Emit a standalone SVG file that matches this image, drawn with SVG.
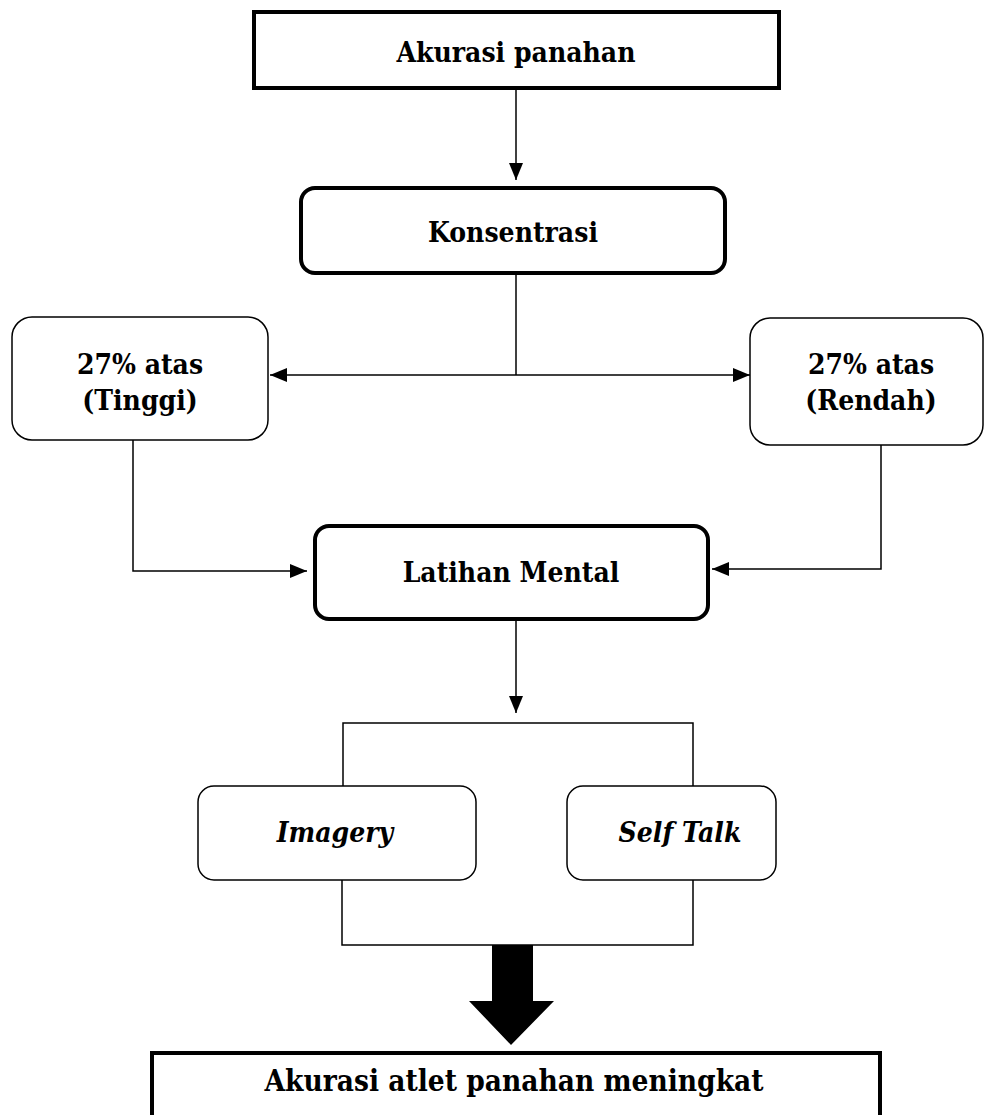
<svg xmlns="http://www.w3.org/2000/svg" width="984" height="1115" viewBox="0 0 984 1115">
<defs>
<marker id="ah" markerUnits="userSpaceOnUse" markerWidth="18" markerHeight="14" refX="17" refY="7" orient="auto-start-reverse">
<path d="M0,0 L17,7 L0,14 Z" fill="#000"/>
</marker>
<style>
.t{font-family:"DejaVu Serif Condensed","DejaVu Serif",serif;font-stretch:condensed;font-size:28px;font-weight:bold;fill:#000;text-anchor:middle}
.i{font-style:italic}
.thick{fill:#fff;stroke:#000;stroke-width:4}
.thin{fill:#fff;stroke:#000;stroke-width:1.5}
.c{fill:none;stroke:#000;stroke-width:1.5}
</style>
</defs>
<rect width="984" height="1115" fill="#fff"/>
<g id="connectors">
<line class="c" x1="516" y1="89" x2="516" y2="180" marker-end="url(#ah)"/>
<line class="c" x1="516" y1="275" x2="516" y2="375"/>
<line class="c" x1="270" y1="375" x2="750" y2="375" marker-start="url(#ah)" marker-end="url(#ah)"/>
<polyline class="c" points="133,440 133,571 307,571" marker-end="url(#ah)"/>
<polyline class="c" points="881,445 881,569 712,569" marker-end="url(#ah)"/>
<line class="c" x1="516" y1="621" x2="516" y2="713" marker-end="url(#ah)"/>
<polyline class="c" points="343,786 343,723 693,723 693,786"/>
<polyline class="c" points="342,880 342,945 693,945 693,880"/>
<polygon points="492,945 533,945 533,1001 554,1001 511,1045 469,1001 492,1001" fill="#000"/>
</g>
<g id="akurasi-panahan">
<rect class="thick" x="254" y="12" width="525" height="76"/>
<text class="t" x="516" y="62">Akurasi panahan</text>
</g>
<g id="konsentrasi">
<rect class="thick" x="301" y="188" width="424" height="85" rx="14"/>
<text class="t" x="513" y="242">Konsentrasi</text>
</g>
<g id="tinggi">
<rect class="thin" x="12" y="317" width="256" height="123" rx="20"/>
<text class="t" x="140" y="374">27% atas</text>
<text class="t" x="140" y="410">(Tinggi)</text>
</g>
<g id="rendah">
<rect class="thin" x="750" y="318" width="233" height="127" rx="20"/>
<text class="t" x="871" y="374">27% atas</text>
<text class="t" x="871" y="410">(Rendah)</text>
</g>
<g id="latihan-mental">
<rect class="thick" x="315" y="526" width="393" height="93" rx="14"/>
<text class="t" x="511" y="582">Latihan Mental</text>
</g>
<g id="imagery">
<rect class="thin" x="198" y="786" width="278" height="94" rx="16"/>
<text class="t i" x="335" y="842">Imagery</text>
</g>
<g id="self-talk">
<rect class="thin" x="567" y="786" width="209" height="94" rx="16"/>
<text class="t i" x="680" y="842">Self Talk</text>
</g>
<g id="akurasi-meningkat">
<rect class="thick" x="152" y="1053" width="728" height="80"/>
<text class="t" x="514" y="1091" style="font-size:29.5px">Akurasi atlet panahan meningkat</text>
</g>
</svg>
